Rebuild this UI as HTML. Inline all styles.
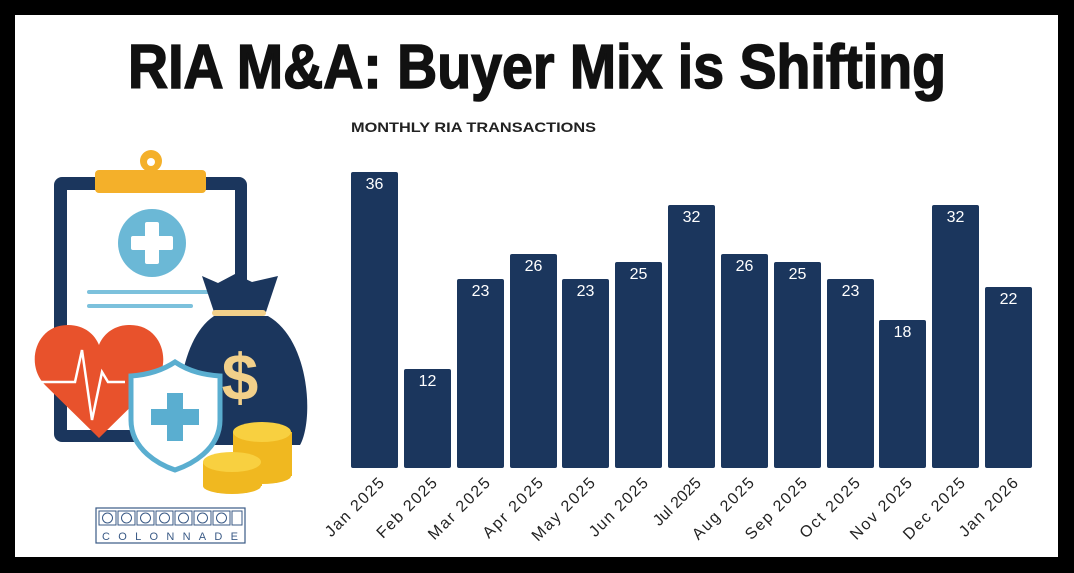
<!DOCTYPE html>
<html><head><style>
html,body{margin:0;padding:0;background:#000;}
svg{display:block;}
text{font-family:"Liberation Sans",sans-serif;}
</style></head><body>
<svg width="1074" height="573" viewBox="0 0 1074 573" xmlns="http://www.w3.org/2000/svg">
<rect x="0" y="0" width="1074" height="573" fill="#000"/>
<rect x="15" y="15" width="1043" height="542" fill="#fff"/>
<text x="537" y="88" text-anchor="middle" font-size="62" font-weight="bold" fill="#111" stroke="#111" stroke-width="1.5" textLength="818" lengthAdjust="spacingAndGlyphs">RIA M&amp;A: Buyer Mix is Shifting</text>
<text x="351" y="132" font-size="14" font-weight="bold" fill="#222" textLength="245" lengthAdjust="spacingAndGlyphs">MONTHLY RIA TRANSACTIONS</text>

<!-- illustration -->
<rect x="54" y="177" width="193" height="265" rx="8" fill="#1b365d"/>
<rect x="67" y="190" width="168" height="240" fill="#fff"/>
<circle cx="151" cy="161" r="11" fill="#f4b02a"/>
<circle cx="151" cy="162" r="4" fill="#fff"/>
<rect x="95" y="170" width="111" height="23" rx="4" fill="#f4b02a"/>
<circle cx="152" cy="243" r="34" fill="#6bb8d6"/>
<rect x="145" y="222" width="14" height="42" rx="2" fill="#fff"/>
<rect x="131" y="236" width="42" height="14" rx="2" fill="#fff"/>
<line x1="89" y1="292" x2="210" y2="292" stroke="#7cc1dc" stroke-width="4" stroke-linecap="round"/>
<line x1="89" y1="306" x2="191" y2="306" stroke="#7cc1dc" stroke-width="4" stroke-linecap="round"/>
<!-- bag -->
<path d="M214 316 C178 340 172 420 188 445 L300 445 C314 420 310 340 268 316 Z" fill="#1b365d"/>
<path d="M202 276 L218 283 L235 274 L252 282 L278 276 L266 312 L214 312 Z" fill="#1b365d"/>
<rect x="212" y="310" width="54" height="6" rx="3" fill="#f2d08a"/>
<text x="240" y="400" text-anchor="middle" font-size="66" font-weight="bold" fill="#f2d08a">$</text>
<!-- heart -->
<path d="M99 438 L45 385 C25 365 35 325 68 325 C85 325 95 335 99 345 C103 335 113 325 130 325 C163 325 173 365 153 385 Z" fill="#e8522c"/>
<polyline points="40,382 75,382 82,350 92,420 102,372 108,382 125,382" fill="none" stroke="#fff" stroke-width="2.5"/>
<!-- shield -->
<path d="M175 362 C160 372 145 375 131 376 L131 420 C131 450 160 465 175 470 C190 465 220 450 220 420 L220 376 C205 375 190 372 175 362 Z" fill="#fff" stroke="#5aaed0" stroke-width="5"/>
<rect x="167" y="393" width="16" height="48" fill="#5aaed0"/>
<rect x="151" y="409" width="48" height="16" fill="#5aaed0"/>
<!-- coins -->
<rect x="233" y="432" width="59" height="44" fill="#f0b820"/>
<ellipse cx="262" cy="476" rx="29" ry="8" fill="#f0b820"/>
<ellipse cx="262" cy="432" rx="29" ry="10" fill="#f8d040"/>
<rect x="203" y="462" width="59" height="24" fill="#f0b820"/>
<ellipse cx="232" cy="486" rx="29" ry="8" fill="#f0b820"/>
<ellipse cx="232" cy="462" rx="29" ry="10" fill="#f8d040"/>
<!-- logo -->
<rect x="96" y="508" width="149" height="35" fill="#fff" stroke="#3a5a86" stroke-width="1.2"/>
<g fill="none" stroke="#3a5a86" stroke-width="1">
<rect x="99" y="511" width="17" height="14"/><circle cx="107.5" cy="518" r="5"/>
<rect x="118" y="511" width="17" height="14"/><circle cx="126.5" cy="518" r="5"/>
<rect x="137" y="511" width="17" height="14"/><circle cx="145.5" cy="518" r="5"/>
<rect x="156" y="511" width="17" height="14"/><circle cx="164.5" cy="518" r="5"/>
<rect x="175" y="511" width="17" height="14"/><circle cx="183.5" cy="518" r="5"/>
<rect x="194" y="511" width="17" height="14"/><circle cx="202.5" cy="518" r="5"/>
<rect x="213" y="511" width="17" height="14"/><circle cx="221.5" cy="518" r="5"/>
<rect x="232" y="511" width="10" height="14"/>
</g>
<text x="170" y="540" text-anchor="middle" font-size="11" fill="#3a5a86" textLength="136" lengthAdjust="spacing">COLONNADE</text>

<!-- bars -->
<g fill="#1b365d">
<rect x="351" y="172" width="47" height="296" rx="2"/>
<rect x="404" y="369" width="47" height="99" rx="2"/>
<rect x="457" y="279" width="47" height="189" rx="2"/>
<rect x="510" y="254" width="47" height="214" rx="2"/>
<rect x="562" y="279" width="47" height="189" rx="2"/>
<rect x="615" y="262" width="47" height="206" rx="2"/>
<rect x="668" y="205" width="47" height="263" rx="2"/>
<rect x="721" y="254" width="47" height="214" rx="2"/>
<rect x="774" y="262" width="47" height="206" rx="2"/>
<rect x="827" y="279" width="47" height="189" rx="2"/>
<rect x="879" y="320" width="47" height="148" rx="2"/>
<rect x="932" y="205" width="47" height="263" rx="2"/>
<rect x="985" y="287" width="47" height="181" rx="2"/>
</g>
<g fill="#fff" font-size="16" text-anchor="middle">
<text x="374.5" y="189">36</text>
<text x="427.5" y="386">12</text>
<text x="480.5" y="296">23</text>
<text x="533.5" y="271">26</text>
<text x="585.5" y="296">23</text>
<text x="638.5" y="279">25</text>
<text x="691.5" y="222">32</text>
<text x="744.5" y="271">26</text>
<text x="797.5" y="279">25</text>
<text x="850.5" y="296">23</text>
<text x="902.5" y="337">18</text>
<text x="955.5" y="222">32</text>
<text x="1008.5" y="304">22</text>
</g>
<g fill="#222" font-size="16" text-anchor="end">
<text transform="translate(385,484) rotate(-45)" textLength="76" lengthAdjust="spacing">Jan 2025</text>
<text transform="translate(438,484) rotate(-45)" textLength="78" lengthAdjust="spacing">Feb 2025</text>
<text transform="translate(491,484) rotate(-45)" textLength="80" lengthAdjust="spacing">Mar 2025</text>
<text transform="translate(544,484) rotate(-45)" textLength="78" lengthAdjust="spacing">Apr 2025</text>
<text transform="translate(596,484) rotate(-45)" textLength="82" lengthAdjust="spacing">May 2025</text>
<text transform="translate(649,484) rotate(-45)" textLength="76" lengthAdjust="spacing">Jun 2025</text>
<text transform="translate(702,484) rotate(-45)">Jul 2025</text>
<text transform="translate(755,484) rotate(-45)" textLength="80" lengthAdjust="spacing">Aug 2025</text>
<text transform="translate(808,484) rotate(-45)" textLength="80" lengthAdjust="spacing">Sep 2025</text>
<text transform="translate(861,484) rotate(-45)" textLength="78" lengthAdjust="spacing">Oct 2025</text>
<text transform="translate(913,484) rotate(-45)" textLength="80" lengthAdjust="spacing">Nov 2025</text>
<text transform="translate(966,484) rotate(-45)" textLength="80" lengthAdjust="spacing">Dec 2025</text>
<text transform="translate(1019,484) rotate(-45)" textLength="76" lengthAdjust="spacing">Jan 2026</text>
</g>
</svg>
</body></html>
